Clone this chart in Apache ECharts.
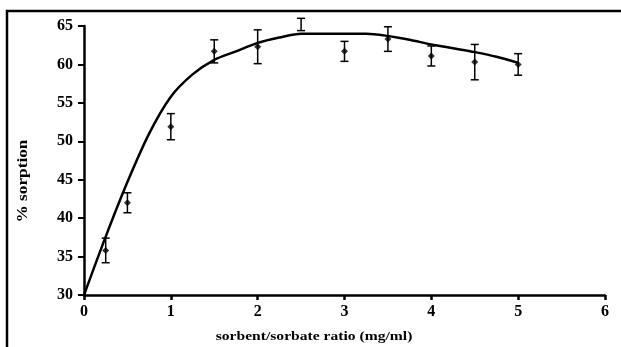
<!DOCTYPE html>
<html><head><meta charset="utf-8">
<script src="https://cdn.jsdelivr.net/npm/echarts@6/dist/echarts.min.js"></script>
<style>html,body{margin:0;padding:0;background:#fff}#c{width:621px;height:347px}</style>
</head><body><div id="c"></div>
<script>
const ratios = [0.25, 0.5, 1, 1.5, 2, 2.5, 3, 3.5, 4, 4.5, 5];
const sorption = [35.8, 42.0, 51.9, 61.7, 62.3, 65.2, 61.7, 63.3, 61.1, 60.3, 60.0];
const errors = [1.6, 1.3, 1.7, 1.5, 2.2, 0.8, 1.3, 1.6, 1.3, 2.3, 1.4];
const fitX = [0, 0.25, 0.5, 0.75, 1, 1.25, 1.5, 1.75, 2, 2.25, 2.5, 2.75, 3, 3.25, 3.5, 3.75, 4, 4.25, 4.5, 4.75, 5];
const fitY = [30.0, 37.6, 44.7, 51.0, 55.8, 58.7, 60.6, 61.7, 62.8, 63.5, 64.0, 64.0, 64.0, 64.0, 63.7, 63.2, 62.6, 62.1, 61.6, 61.0, 60.2];
const xTicks = [0, 1, 2, 3, 4, 5, 6];
const yTicks = [30, 35, 40, 45, 50, 55, 60, 65];
const xTitle = 'sorbent/sorbate ratio (mg/ml)';
const yTitle = '% sorption';

const font = '"Liberation Serif", "DejaVu Serif", serif';
const chart = echarts.init(document.getElementById('c'), null, {renderer: 'canvas'});
chart.setOption({
  animation: false,
  backgroundColor: '#fff',
  grid: {left: 84, right: 16, top: 26, bottom: 52},
  xAxis: {
    type: 'value', min: xTicks[0], max: xTicks[xTicks.length - 1], interval: 1,
    axisLine: {lineStyle: {color: '#000', width: 2.5}},
    axisTick: {length: 5, lineStyle: {color: '#000', width: 2.5}},
    axisLabel: {margin: 9, color: '#000', fontFamily: font, fontWeight: 'bold', fontSize: 16},
    splitLine: {show: false}
  },
  yAxis: {
    type: 'value', min: yTicks[0], max: yTicks[yTicks.length - 1], interval: 5,
    axisLine: {show: true, lineStyle: {color: '#000', width: 2.5}},
    axisTick: {show: true, length: 6, lineStyle: {color: '#000', width: 2}},
    axisLabel: {margin: 11, color: '#000', fontFamily: font, fontWeight: 'bold', fontSize: 16},
    splitLine: {show: false}
  },
  graphic: [
    {type: 'polyline', shape: {points: [[7, 347], [7, 11], [621, 11]]}, style: {stroke: '#000', lineWidth: 2.5, fill: null}},
    {type: 'text', x: 314, y: 337, scaleX: 1.2, style: {text: xTitle, font: 'bold 13px ' + font, fill: '#000', textAlign: 'center', textVerticalAlign: 'middle'}},
    {type: 'text', x: 23, y: 181, rotation: Math.PI / 2, scaleX: 1.15, style: {text: yTitle, font: 'bold 15px ' + font, fill: '#000', textAlign: 'center', textVerticalAlign: 'middle'}}
  ],
  series: [
    {
      type: 'line', data: fitX.map((x, i) => [x, fitY[i]]), smooth: 0.3, symbol: 'none',
      lineStyle: {color: '#000', width: 2.5}, z: 3
    },
    {
      type: 'custom', z: 4,
      data: ratios.map((x, i) => [x, sorption[i], errors[i]]),
      renderItem: function (params, api) {
        const x = api.value(0), y = api.value(1), e = api.value(2);
        const top = api.coord([x, y + e]);
        const bot = api.coord([x, y - e]);
        const hw = 4;
        return {
          type: 'group', children: [
            {type: 'line', shape: {x1: top[0], y1: top[1], x2: bot[0], y2: bot[1]}, style: {stroke: '#000', lineWidth: 1.5}},
            {type: 'line', shape: {x1: top[0] - hw, y1: top[1], x2: top[0] + hw, y2: top[1]}, style: {stroke: '#000', lineWidth: 1.5}},
            {type: 'line', shape: {x1: bot[0] - hw, y1: bot[1], x2: bot[0] + hw, y2: bot[1]}, style: {stroke: '#000', lineWidth: 1.5}}
          ]
        };
      }
    },
    {
      type: 'scatter', data: ratios.map((x, i) => [x, sorption[i]]),
      symbol: 'diamond', symbolSize: 7, itemStyle: {color: '#000'}, z: 5
    }
  ]
});
</script></body></html>
